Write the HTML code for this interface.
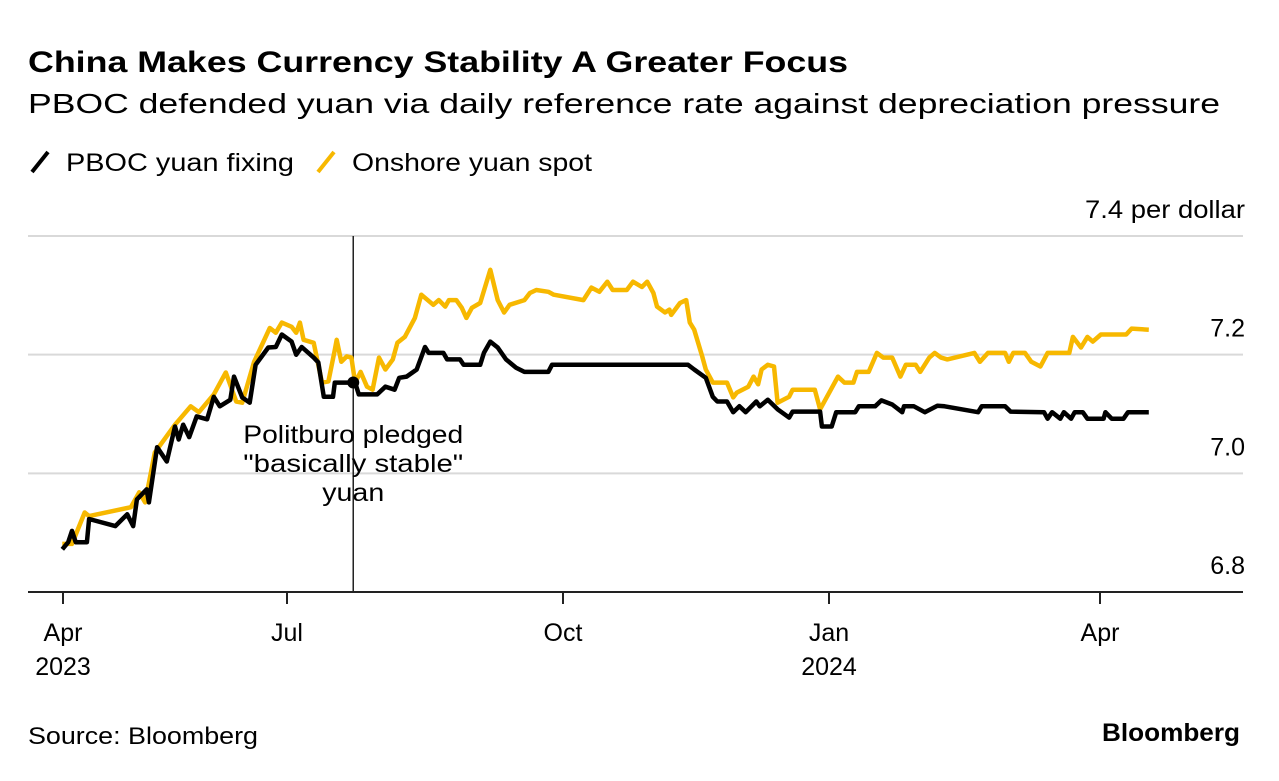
<!DOCTYPE html>
<html><head><meta charset="utf-8"><style>
body{margin:0;background:#fff;font-family:"Liberation Sans",Arial,sans-serif;}
svg text{font-family:"Liberation Sans",Arial,sans-serif;}
</style></head><body>
<svg id="chart" width="1279" height="776" viewBox="0 0 1279 776">
<text x="28" y="72" font-size="30" font-weight="bold" fill="#000" textLength="820" lengthAdjust="spacingAndGlyphs">China Makes Currency Stability A Greater Focus</text>
<text x="28" y="113" font-size="28" fill="#000" textLength="1192" lengthAdjust="spacingAndGlyphs">PBOC defended yuan via daily reference rate against depreciation pressure</text>
<g>
<line x1="32" y1="172" x2="48" y2="152" stroke="#000" stroke-width="4"/>
<text x="66" y="171" font-size="25" textLength="228" lengthAdjust="spacingAndGlyphs">PBOC yuan fixing</text>
<line x1="318" y1="172" x2="334" y2="152" stroke="#f7b800" stroke-width="4"/>
<text x="352" y="171" font-size="25" textLength="240" lengthAdjust="spacingAndGlyphs">Onshore yuan spot</text>
</g>
<g id="grid"></g>
<g id="lines"></g>
<g id="ann"></g>
<text x="28" y="744" font-size="24" textLength="230" lengthAdjust="spacingAndGlyphs">Source: Bloomberg</text>
<text x="1240" y="741" font-size="25" font-weight="bold" text-anchor="end" textLength="138" lengthAdjust="spacingAndGlyphs">Bloomberg</text>
</svg>
<script>
const tickMonths=[0,3,6,9,12];
const tickLabels=["Apr","Jul","Oct","Jan","Apr"];
const tickYears=["2023","","","2024",""];
const yTicks=[6.8,7.0,7.2,7.4];
const yTickLabels=["6.8","7.0","7.2","7.4 per dollar"];
const fixMonths=[-0.01,0.07,0.12,0.17,0.32,0.35,0.70,0.86,0.94,0.99,1.12,1.15,1.26,1.39,1.50,1.55,1.61,1.69,1.79,1.93,2.02,2.10,2.24,2.29,2.40,2.50,2.58,2.75,2.85,2.93,3.05,3.10,3.16,3.29,3.34,3.40,3.50,3.52,3.67,3.74,3.78,3.98,4.07,4.17,4.22,4.30,4.41,4.50,4.54,4.70,4.74,4.88,4.92,5.10,5.14,5.21,5.29,5.38,5.49,5.58,5.84,5.88,6.89,7.41,7.48,7.61,7.69,7.74,7.85,7.92,7.99,8.06,8.18,8.22,8.31,8.42,8.55,8.59,8.90,8.92,9.03,9.08,9.29,9.33,9.51,9.58,9.70,9.81,9.83,9.94,10.06,10.20,10.28,10.65,10.69,10.95,11.01,11.38,11.42,11.47,11.56,11.60,11.68,11.72,11.81,11.86,12.04,12.06,12.13,12.26,12.31,12.54];
const fixValues=[6.872,6.884,6.903,6.884,6.884,6.923,6.911,6.931,6.911,6.956,6.973,6.951,7.044,7.020,7.079,7.057,7.082,7.061,7.096,7.091,7.129,7.113,7.124,7.163,7.128,7.119,7.183,7.212,7.213,7.234,7.222,7.200,7.213,7.195,7.187,7.129,7.129,7.153,7.153,7.153,7.133,7.133,7.146,7.141,7.161,7.163,7.175,7.213,7.203,7.203,7.192,7.192,7.183,7.183,7.203,7.222,7.212,7.192,7.178,7.171,7.171,7.183,7.183,7.183,7.175,7.161,7.129,7.121,7.121,7.103,7.113,7.103,7.121,7.113,7.124,7.108,7.094,7.104,7.104,7.079,7.079,7.103,7.103,7.113,7.113,7.123,7.116,7.103,7.113,7.113,7.103,7.114,7.113,7.103,7.113,7.113,7.104,7.103,7.092,7.103,7.092,7.103,7.092,7.103,7.103,7.092,7.092,7.103,7.092,7.092,7.103,7.103];
const spotMonths=[-0.01,0.12,0.29,0.35,0.91,1.02,1.10,1.23,1.50,1.71,1.82,2.02,2.18,2.32,2.40,2.56,2.77,2.85,2.93,3.05,3.10,3.14,3.18,3.29,3.38,3.45,3.52,3.54,3.59,3.65,3.70,3.74,3.80,3.87,3.93,4.00,4.07,4.15,4.20,4.28,4.39,4.46,4.59,4.65,4.72,4.76,4.84,4.90,4.95,5.01,5.10,5.21,5.29,5.36,5.42,5.58,5.64,5.71,5.84,5.90,6.23,6.32,6.41,6.50,6.56,6.72,6.79,6.89,6.95,7.02,7.06,7.15,7.20,7.22,7.32,7.39,7.43,7.48,7.57,7.61,7.69,7.85,7.92,7.96,8.09,8.15,8.20,8.24,8.31,8.38,8.42,8.55,8.59,8.84,8.90,9.10,9.17,9.27,9.31,9.44,9.53,9.60,9.70,9.79,9.85,9.96,10.01,10.11,10.17,10.24,10.31,10.61,10.67,10.76,10.95,10.99,11.04,11.17,11.24,11.34,11.42,11.66,11.70,11.79,11.86,11.92,12.01,12.29,12.35,12.54];
const spotValues=[6.881,6.881,6.934,6.928,6.943,6.968,6.951,7.035,7.082,7.113,7.103,7.133,7.170,7.121,7.119,7.188,7.245,7.237,7.254,7.247,7.237,7.254,7.225,7.220,7.153,7.155,7.208,7.225,7.188,7.197,7.195,7.153,7.171,7.146,7.141,7.195,7.175,7.192,7.220,7.230,7.262,7.301,7.284,7.292,7.281,7.292,7.292,7.279,7.262,7.279,7.287,7.343,7.292,7.271,7.284,7.292,7.304,7.309,7.306,7.301,7.292,7.313,7.306,7.323,7.309,7.309,7.323,7.314,7.323,7.304,7.281,7.271,7.276,7.267,7.287,7.292,7.254,7.242,7.197,7.175,7.153,7.153,7.128,7.136,7.146,7.163,7.150,7.175,7.183,7.180,7.119,7.129,7.141,7.141,7.108,7.163,7.153,7.153,7.171,7.171,7.203,7.195,7.195,7.163,7.183,7.183,7.171,7.195,7.203,7.195,7.192,7.203,7.188,7.203,7.203,7.188,7.203,7.203,7.188,7.180,7.203,7.203,7.230,7.212,7.230,7.222,7.234,7.234,7.244,7.242];
const annMonth=3.72, annValue=7.153;
const annLines=["Politburo pledged","\"basically stable\"","yuan"];
const annLens=[220,220,62];

const NS="http://www.w3.org/2000/svg";
const tickPx=[63,287,563,829,1100];
function xs(m){let i=0;while(i<tickMonths.length-2&&m>tickMonths[i+1])i++;
  return tickPx[i]+(m-tickMonths[i])*(tickPx[i+1]-tickPx[i])/(tickMonths[i+1]-tickMonths[i]);}
function ys(v){return 592-(v-6.8)*(356/0.6);}
function mk(tag,attrs,parent){const e=document.createElementNS(NS,tag);for(const k in attrs)e.setAttribute(k,attrs[k]);parent.appendChild(e);return e;}
const grid=document.getElementById('grid');
yTicks.forEach((v,i)=>{
  if(i>0){const l=mk('line',{x1:28,x2:1243,y1:ys(v),y2:ys(v),stroke:'#d9d9d9','stroke-width':2},grid);
  
  }
  const t=mk('text',{x:1245,y:ys(v)-18,'font-size':25,'text-anchor':'end'},grid);t.textContent=yTickLabels[i];
  if(i===3){t.setAttribute('textLength','160');t.setAttribute('lengthAdjust','spacingAndGlyphs');}
  
  
});
const ax=mk('line',{x1:28,x2:1243,y1:592,y2:592,stroke:'#222','stroke-width':2},grid);


tickMonths.forEach((m,i)=>{
  const x=xs(m);
  const tk=mk('line',{x1:x,x2:x,y1:592,y2:604,stroke:'#222','stroke-width':2},grid);
  
  
  const t=mk('text',{x:x,y:641,'font-size':25,'text-anchor':'middle'},grid);t.textContent=tickLabels[i];
  
  
  if(tickYears[i]){const y=mk('text',{x:x,y:675,'font-size':25,'text-anchor':'middle'},grid);y.textContent=tickYears[i];
  
  }
});
const lines=document.getElementById('lines');
function path(ms,vs){return ms.map((m,i)=>(i?'L':'M')+xs(m).toFixed(1)+','+ys(vs[i]).toFixed(1)).join('');}
const ann=document.getElementById('ann');
const ax0=xs(annMonth);
const vl=mk('line',{x1:ax0,x2:ax0,y1:236,y2:592,stroke:'#222','stroke-width':1.5},lines);


const sp=mk('path',{d:path(spotMonths,spotValues),fill:'none',stroke:'#f7b800','stroke-width':4.5,'stroke-linejoin':'round'},lines);


const fx=mk('path',{d:path(fixMonths,fixValues),fill:'none',stroke:'#000','stroke-width':4.5,'stroke-linejoin':'round'},lines);


const dot=mk('circle',{cx:ax0,cy:ys(annValue),r:6,fill:'#000'},ann);


annLines.forEach((s,i)=>{const t=mk('text',{x:ax0,y:443+i*29,'font-size':25,'text-anchor':'middle',textLength:annLens[i],lengthAdjust:'spacingAndGlyphs'},ann);t.textContent=s;
  
  });
</script>
</body></html>
